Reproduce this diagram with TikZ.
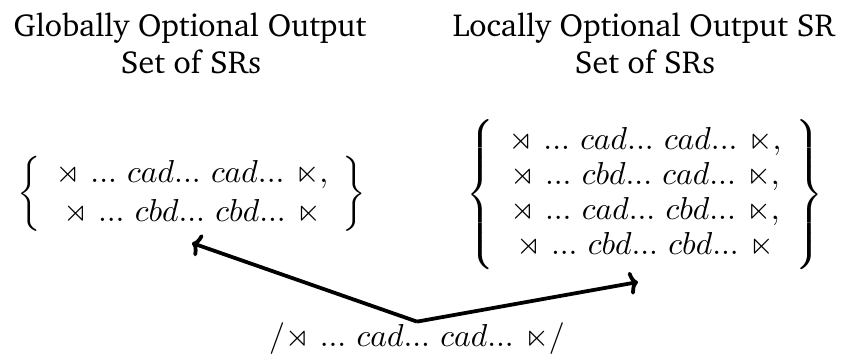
\documentclass[tikz,border=0pt]{standalone}
\usepackage{amssymb}
\usetikzlibrary{arrows.meta}
\newcommand{\lbd}{\mathord{\rtimes}}
\newcommand{\rbd}{\mathord{\ltimes}}
\begin{document}
\begin{tikzpicture}[x=0.345pt,y=-0.345pt,
  head/.style={font=\fontencoding{T1}\fontfamily{bch}\fontsize{11}{13}\selectfont, inner sep=0pt, anchor=base},
  srset/.style={inner sep=0pt, font=\fontsize{10.8}{12.1}\selectfont},
  link/.style={line width=1.3pt,-{To[length=3pt,width=8pt]}}]
\useasboundingbox (0,0) rectangle (844,360);

% column headings
\node[head] (g1) at (190,36) {Globally Optional Output};
\node[head] (g2) at (191,73) {Set of SRs};
\node[head] (l1) at (644,36) {Locally Optional Output SR};
\node[head] (l2) at (645,73) {Set of SRs};

% the two sets of surface representations
\node[srset, font=\fontsize{10.8}{13.5}\selectfont] (gset) at (192,194) {$\left\{\begin{array}{c}
  \lbd\ ...\ cad...\ cad...\ \rbd, \\
  \lbd\ ...\ cbd...\ cbd...\ \rbd
\end{array}\right\}$};
\node[srset] (lset) at (645,195) {$\delimitershortfall=0pt\left\{\begin{array}{c}
  \lbd\ ...\ cad...\ cad...\ \rbd, \\
  \lbd\ ...\ cbd...\ cad...\ \rbd, \\
  \lbd\ ...\ cad...\ cbd...\ \rbd, \\
  \lbd\ ...\ cbd...\ cbd...\ \rbd
\end{array}\right\}$};

% underlying form
\node[srset, anchor=base] (ur) at (417,346) {$/\lbd\ ...\ cad...\ cad...\ \rbd/$};

\coordinate (gtip) at (192,243);
\coordinate (ltip) at (638,282);
\draw[link] (ur.north) -- (gtip);
\draw[link] (ur.north) -- (ltip);
\end{tikzpicture}
\end{document}
